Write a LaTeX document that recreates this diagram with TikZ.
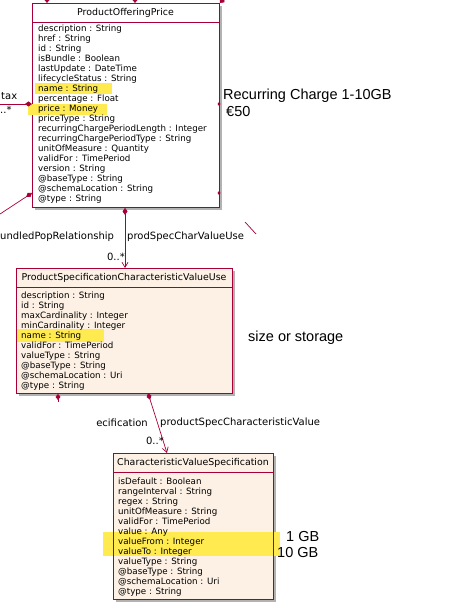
\documentclass[tikz,border=0pt]{standalone}
\usepackage{fontspec}
\setmainfont{DejaVu Sans}
\newfontfamily\arialf{Liberation Sans}
\usetikzlibrary{arrows.meta}
\definecolor{umlred}{HTML}{A80036}
\definecolor{umlfill}{HTML}{FCF1E4}
\definecolor{hiyel}{HTML}{FFEB50}
\tikzset{
  umlbox/.style={draw=umlred, line width=0.9pt, anchor=north west, inner sep=0pt},
  shadowbox/.style={fill=black!30, draw=none},
  attr/.style={anchor=base west, inner sep=0pt, font=\fontsize{8.7}{10}\selectfont},
  ttl/.style={inner sep=0pt, font=\fontsize{9.4}{10}\selectfont},
  lbl/.style={inner sep=0pt, font=\fontsize{10}{11}\selectfont},
  note/.style={inner sep=0pt, anchor=base west, font=\arialf\fontsize{14.5}{16}\selectfont},
  assoc/.style={draw=umlred, line width=0.7pt, {Diamond[length=7pt,width=5pt,fill=umlred]}-{Straight Barb[length=5pt,width=6pt]}},
  stub/.style={draw=umlred, line width=0.7pt},
  dmark/.style={fill=umlred, draw=none},
}
\begin{document}
\begin{tikzpicture}[x=1pt,y=-1pt]
\useasboundingbox (0,0) rectangle (464,609);
% ---------- shadows
\fill[shadowbox] (35,6) rectangle (222,210);
\fill[shadowbox] (19,271) rectangle (235,396);
\fill[shadowbox] (116,456) rectangle (276,602);
% box 1
\node[umlbox, fill=white, minimum width=187pt, minimum height=204pt] (pop) at (32,3) {};
\fill[hiyel] (35,83.5) rectangle (112,94);
\fill[hiyel] (28,104.5) rectangle (107,115);
\draw[umlred, line width=0.9pt] (32,22) -- (219,22);
\node[ttl] (popT) at (125.5,12.5) {ProductOfferingPrice};
\foreach \t [count=\i] in {description : String, href : String, id : String, isBundle : Boolean, lastUpdate : DateTime, lifecycleStatus : String, name : String, percentage : Float, price : Money, priceType : String, recurringChargePeriodLength : Integer, recurringChargePeriodType : String, unitOfMeasure : Quantity, validFor : TimePeriod, version : String, @baseType : String, @schemaLocation : String, @type : String}
  \node[attr] (popA\i) at (38,22+\i*10) {\t};
% box 2
\node[umlbox, fill=umlfill, minimum width=216pt, minimum height=125pt] (psc) at (16,268) {};
\fill[hiyel] (16.5,329) rectangle (104,342);
\draw[umlred, line width=0.9pt] (16,287) -- (232,287);
\node[ttl] (pscT) at (124,278) {ProductSpecificationCharacteristicValueUse};
\foreach \t [count=\i] in {description : String, id : String, maxCardinality : Integer, minCardinality : Integer, name : String, validFor : TimePeriod, valueType : String, @baseType : String, @schemaLocation : Uri, @type : String}
  \node[attr] (pscA\i) at (21,288+\i*10) {\t};
% box 3
\node[umlbox, fill=umlfill, minimum width=160pt, minimum height=146pt] (cvs) at (113,453) {};
\draw[umlred, line width=0.9pt] (113,472) -- (273,472);
\fill[hiyel] (103,532) rectangle (280,556);
\node[ttl] (cvsT) at (193,463) {CharacteristicValueSpecification};
\foreach \t [count=\i] in {isDefault : Boolean, rangeInterval : String, regex : String, unitOfMeasure : String, validFor : TimePeriod, value : Any, valueFrom : Integer, valueTo : Integer, valueType : String, @baseType : String, @schemaLocation : Uri, @type : String}
  \node[attr] (cvsA\i) at (118,474+\i*10) {\t};
\draw[umlred, line width=0.9pt] (113,453) rectangle (273,599);
% ---------- connectors
\coordinate (c1) at (125,0);
\draw[assoc] (pop.south -| c1) -- (psc.north -| c1);
\coordinate (c2s) at (148,393);
\coordinate (c2e) at (167,453);
\draw[assoc] (c2s) -- (c2e);
% stubs
\coordinate (tl) at (0,104);
\draw[stub, {Diamond[length=7pt,width=5pt,fill=umlred]}-] (pop.west |- tl) -- (tl);
\coordinate (bl) at (0,214);
\coordinate (bls) at (32,193);
\draw[stub, {Diamond[length=7pt,width=5pt,fill=umlred]}-] (bls) -- (bl);
\coordinate (t1) at (47,-5);
\draw[stub, {Diamond[length=6pt,width=5pt,fill=umlred]}-] (pop.north -| t1) -- (t1);
\coordinate (t2) at (135,-5);
\draw[stub, {Diamond[length=6pt,width=5pt,fill=umlred]}-] (pop.north -| t2) -- (t2);
\coordinate (t3) at (225,-3);
\draw[stub, {Diamond[length=7pt,width=6pt,fill=umlred]}-] (pop.north east) -- (t3);
\fill[dmark] (219,102) -- (220.5,104) -- (219,106) -- (217.5,104) -- cycle;
\fill[dmark] (219,191) -- (220.5,193) -- (219,195) -- (217.5,193) -- cycle;
\coordinate (b2) at (58,402);
\draw[stub, {Diamond[length=6pt,width=5pt,fill=umlred]}-] (psc.south -| b2) -- (b2);
\coordinate (fa) at (245,222);
\coordinate (fb) at (256,234);
\draw[stub] (fa) -- (fb);
% ---------- labels
\node[lbl, anchor=west] (ltax) at (1,96) {tax};
\node[lbl, anchor=west] (lmany) at (0,110) {..*};
\node[lbl, anchor=west] (lbund) at (0,237) {undledPopRelationship};
\node[lbl, anchor=west] (lpscv) at (127,237) {prodSpecCharValueUse};
\node[lbl, anchor=east] (lm1) at (125,257) {0..*};
\node[lbl, anchor=east] (lecif) at (148,423) {ecification};
\node[lbl, anchor=west] (lpscval) at (160,423) {productSpecCharacteristicValue};
\node[lbl, anchor=east] (lm2) at (164,441) {0..*};
% ---------- notes
\node[note] (n1) at (223,100) {Recurring Charge 1-10GB};
\node[note] (n2) at (226,117) {€50};
\node[note] (n3) at (248,341) {size or storage};
\node[note] (n4) at (286,541) {1 GB};
\node[note] (n5) at (277,557) {10 GB};
\end{tikzpicture}
\end{document}
